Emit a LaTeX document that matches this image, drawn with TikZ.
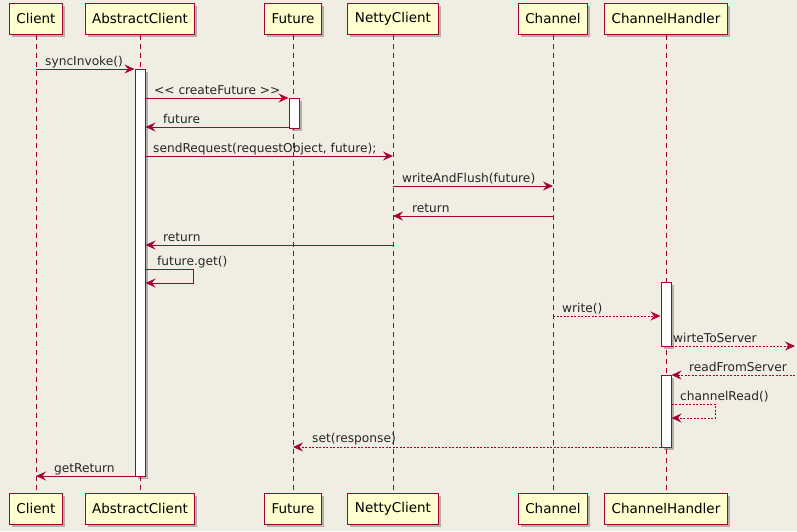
\documentclass[tikz,border=0pt]{standalone}
\usepackage{fontspec}
\setmainfont{DejaVu Sans}
\usetikzlibrary{arrows.meta,shadows}

\definecolor{umlred}{HTML}{A80036}
\definecolor{umlfill}{HTML}{FEFECE}
\definecolor{umlbg}{RGB}{240,237,227}

\tikzset{
  part/.style={draw=umlred,fill=umlfill,line width=1pt,minimum height=31pt,
    inner xsep=7pt,font=\fontsize{13.5}{16}\selectfont,
    drop shadow={shadow xshift=2.5pt,shadow yshift=-2.5pt,fill=black,opacity=0.25}},
  actbar/.style={draw=umlred,fill=white,line width=1pt,minimum width=10pt,inner sep=0pt,
    drop shadow={shadow xshift=2.5pt,shadow yshift=-2.5pt,fill=black,opacity=0.25}},
  life/.style={draw=umlred,line width=0.7pt,dash pattern=on 5pt off 4pt},
  msg/.style={draw=umlred,line width=1pt,-{Stealth[length=10pt,width=9pt,inset=3.5pt]}},
  asyncmsg/.style={msg,dash pattern=on 2pt off 1.5pt},
  lbl/.style={anchor=base west,inner sep=0pt,font=\fontsize{12.2}{14}\selectfont,text=black!85}
}

\begin{document}
\begin{tikzpicture}[x=1pt,y=-1pt]
  \fill[umlbg] (0,0) rectangle (797,531);
  \useasboundingbox (0,0) rectangle (797,531);

  % Participants, top and bottom
  \node[part] (clt)  at (36,18.5)  {Client};
  \node[part] (act)  at (140,18.5) {AbstractClient};
  \node[part] (futt) at (293,18.5) {Future};
  \node[part] (nett) at (393,18.5) {NettyClient};
  \node[part] (cht)  at (553,18.5) {Channel};
  \node[part] (chht) at (666,18.5) {ChannelHandler};

  \node[part] (clb)  at (36,508.5)  {Client};
  \node[part] (acb)  at (140,508.5) {AbstractClient};
  \node[part] (futb) at (293,508.5) {Future};
  \node[part] (netb) at (393,508.5) {NettyClient};
  \node[part] (chb)  at (553,508.5) {Channel};
  \node[part] (chhb) at (666,508.5) {ChannelHandler};

  % Lifelines
  \draw[life] (clt) -- (clb);
  \draw[life] (act) -- (acb);
  \draw[life] (futt) -- (futb);
  \draw[life] (nett) -- (netb);
  \draw[life] (cht) -- (chb);
  \draw[life] (chht) -- (chhb);

  % Activations
  \node[actbar,minimum height=407pt] (acAct)   at (140,272.5) {};
  \node[actbar,minimum height=30pt]  (futAct)  at (294,113)   {};
  \node[actbar,minimum height=64pt]  (chhActA) at (666,314)   {};
  \node[actbar,minimum height=72pt]  (chhActB) at (666,411)   {};

  % Message levels
  \coordinate (y1) at (0,69);
  \coordinate (y2) at (0,98);
  \coordinate (y3) at (0,127);
  \coordinate (y4) at (0,156);
  \coordinate (y5) at (0,186);
  \coordinate (y6) at (0,216);
  \coordinate (y7) at (0,245);
  \coordinate (y8) at (0,269);
  \coordinate (y8b) at (0,283);
  \coordinate (y9) at (0,316);
  \coordinate (y10) at (0,346);
  \coordinate (y11) at (0,375);
  \coordinate (y12) at (0,404);
  \coordinate (y12b) at (0,418);
  \coordinate (y13) at (0,447);
  \coordinate (y14) at (0,476);
  \coordinate (selfA) at (193,0);
  \coordinate (selfB) at (715,0);
  \coordinate (srv) at (795,0);

  % Messages
  \draw[msg] (clt |- y1) -- (acAct.west |- y1);
  \node[lbl] (l1) at (45,65) {syncInvoke()};
  \draw[msg] (acAct.east |- y2) -- (futAct.west |- y2);
  \node[lbl] (l2) at (154,94) {<\kern0pt< createFuture >\kern0pt>};
  \draw[msg] (futAct.west |- y3) -- (acAct.east |- y3);
  \node[lbl] (l3) at (163,123) {future};
  \draw[msg] (acAct.east |- y4) -- (nett |- y4);
  \node[lbl] (l4) at (153,152) {sendRequest(requestObject, future);};
  \draw[msg] (nett |- y5) -- (cht |- y5);
  \node[lbl] (l5) at (402,182) {writeAndFlush(future)};
  \draw[msg] (cht |- y6) -- (nett |- y6);
  \node[lbl] (l6) at (412,212) {return};
  \draw[msg] (nett |- y7) -- (acAct.east |- y7);
  \node[lbl] (l7) at (163,241) {return};
  \draw[msg] (acAct.east |- y8) -- (selfA |- y8) -- (selfA |- y8b) -- (acAct.east |- y8b);
  \node[lbl] (l8) at (157,265) {future.get()};

  \draw[asyncmsg] (cht |- y9) -- (chhActA.west |- y9);
  \node[lbl] (l9) at (562,312) {write()};
  \draw[asyncmsg] (chhActA.east |- y10) -- (srv |- y10);
  \node[lbl] (l10) at (673,342) {wirteToServer};
  \draw[asyncmsg] (srv |- y11) -- (chhActB.east |- y11);
  \node[lbl] (l11) at (689,371) {readFromServer};
  \draw[asyncmsg] (chhActB.east |- y12) -- (selfB |- y12) -- (selfB |- y12b) -- (chhActB.east |- y12b);
  \node[lbl] (l12) at (680,400) {channelRead()};
  \draw[asyncmsg] (chhActB.west |- y13) -- (futt |- y13);
  \node[lbl] (l13) at (312,442) {set(response)};
  \draw[msg] (acAct.west |- y14) -- (clt |- y14);
  \node[lbl] (l14) at (54,472) {getReturn};
\end{tikzpicture}
\end{document}
